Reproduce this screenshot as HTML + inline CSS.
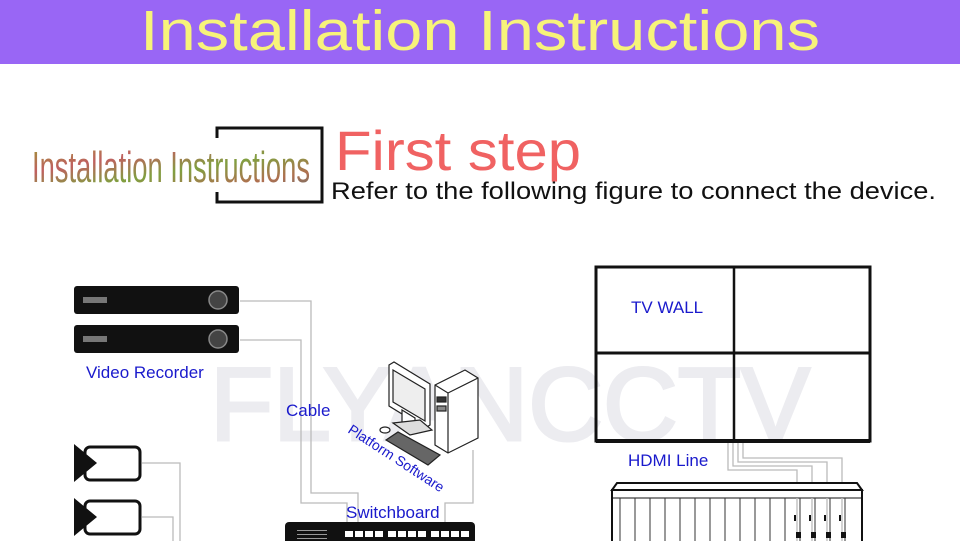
<!DOCTYPE html>
<html><head><meta charset="utf-8"><style>
html,body{margin:0;padding:0;background:#fff;width:960px;height:541px;overflow:hidden}
svg{display:block;font-family:"Liberation Sans",sans-serif}
</style></head><body>
<svg width="960" height="541" viewBox="0 0 960 541" xmlns="http://www.w3.org/2000/svg">
<defs>
<linearGradient id="g" x1="0" y1="0" x2="1" y2="1">
<stop offset="0" stop-color="#9a9a30"/><stop offset="0.3" stop-color="#c06060"/><stop offset="0.55" stop-color="#80a040"/><stop offset="0.8" stop-color="#b07050"/><stop offset="1" stop-color="#607070"/>
</linearGradient>
</defs>
<rect x="0" y="0" width="960" height="64" fill="#9966f5"/>
<text x="140" y="50" font-size="57" fill="#f7f37a" textLength="680" lengthAdjust="spacingAndGlyphs">Installation Instructions</text>

<text x="32" y="182" font-size="44" fill="url(#g)" textLength="278" lengthAdjust="spacingAndGlyphs">Installation Instructions</text>
<path d="M217 138 V128 H322 V202 H217 V192" fill="none" stroke="#111" stroke-width="3"/>
<text x="335" y="170" font-size="56" fill="#f06262" textLength="246" lengthAdjust="spacingAndGlyphs">First step</text>
<text x="331" y="199" font-size="24" fill="#111" textLength="605" lengthAdjust="spacingAndGlyphs">Refer to the following figure to connect the device.</text>

<text x="210" y="440" font-size="104" fill="#ececf0" stroke="#ececf0" stroke-width="3" textLength="600" lengthAdjust="spacingAndGlyphs">FLYANCCTV</text>

<g fill="none" stroke="#bbb" stroke-width="1.3">
<path d="M240 301 H311 V493 H358 V522"/>
<path d="M240 340 H301 V503 H347 V522"/>
<path d="M473 450 V503 H445 V522"/>
<path d="M142 463 H180 V541"/>
<path d="M142 517 H173 V541"/>
<path d="M728 441 V470 H797 V541"/>
<path d="M733 441 V466 H812 V541"/>
<path d="M738 441 V462 H827 V541"/>
<path d="M743 441 V458 H842 V541"/>
</g>

<g>
<rect x="74" y="286" width="165" height="28" rx="3" fill="#111"/>
<rect x="83" y="297" width="24" height="6" fill="#777"/>
<circle cx="218" cy="300" r="9" fill="#444" stroke="#888" stroke-width="1.5"/>
<rect x="74" y="325" width="165" height="28" rx="3" fill="#111"/>
<rect x="83" y="336" width="24" height="6" fill="#777"/>
<circle cx="218" cy="339" r="9" fill="#444" stroke="#888" stroke-width="1.5"/>
</g>
<text x="86" y="378" font-size="17" fill="#1a1acc">Video Recorder</text>
<text x="286" y="416" font-size="17" fill="#1a1acc">Cable</text>

<g>
<rect x="85" y="447" width="55" height="33" rx="5" fill="#fff" stroke="#111" stroke-width="3"/>
<path d="M74 444 L97 463 L74 482 Z" fill="#111"/>
<rect x="85" y="501" width="55" height="33" rx="5" fill="#fff" stroke="#111" stroke-width="3"/>
<path d="M74 498 L97 517 L74 536 Z" fill="#111"/>
</g>

<g stroke="#222" stroke-width="1.2" fill="#fff">
<path d="M435 385 L465 370 L478 378 L478 438 L448 453 L435 445 Z"/>
<path d="M435 385 L448 393 L478 378" fill="none"/>
<path d="M448 393 V453" fill="none"/>
<rect x="437" y="397" width="9" height="5" fill="#333"/>
<rect x="437" y="406" width="9" height="5" fill="#888"/>
<path d="M389 365 L394 362 L430 384 L430 425 L425 428 L389 406 Z"/>
<path d="M393 370 L425 389 L425 421 L393 402 Z" fill="#eee"/>
<path d="M402 410 L415 418 L415 428 L402 422 Z"/>
<path d="M393 423 L420 420 L432 430 L410 435 Z" fill="#ddd"/>
<path d="M386 440 L398 432 L440 455 L428 465 Z" fill="#666"/>
<ellipse cx="385" cy="430" rx="5" ry="3"/>
</g>
<text x="0" y="0" font-size="14" fill="#1a1acc" transform="translate(347,432) rotate(33)">Platform Software</text>

<text x="346" y="518" font-size="17" fill="#1a1acc">Switchboard</text>
<rect x="285" y="522" width="190" height="30" rx="4" fill="#111"/>
<g fill="#fff">
<rect x="345" y="531" width="8" height="6"/><rect x="355" y="531" width="8" height="6"/><rect x="365" y="531" width="8" height="6"/><rect x="375" y="531" width="8" height="6"/>
<rect x="388" y="531" width="8" height="6"/><rect x="398" y="531" width="8" height="6"/><rect x="408" y="531" width="8" height="6"/><rect x="418" y="531" width="8" height="6"/>
<rect x="431" y="531" width="8" height="6"/><rect x="441" y="531" width="8" height="6"/><rect x="451" y="531" width="8" height="6"/><rect x="461" y="531" width="8" height="6"/>
</g>
<g fill="#999"><rect x="297" y="530" width="30" height="1"/><rect x="297" y="534" width="30" height="1"/><rect x="297" y="538" width="30" height="1"/></g>

<rect x="596" y="267" width="274" height="174" fill="none" stroke="#111" stroke-width="3"/>
<line x1="734" y1="267" x2="734" y2="441" stroke="#111" stroke-width="2.5"/>
<line x1="596" y1="353" x2="870" y2="353" stroke="#111" stroke-width="3"/>
<line x1="596" y1="441" x2="870" y2="441" stroke="#111" stroke-width="4"/>
<text x="631" y="313" font-size="17" fill="#1a1acc">TV WALL</text>
<text x="628" y="466" font-size="17" fill="#1a1acc">HDMI Line</text>

<path d="M617 483 H857 L862 490 H612 Z" fill="#fff" stroke="#111" stroke-width="2"/>
<rect x="612" y="490" width="250" height="60" fill="#fff" stroke="#111" stroke-width="2"/>
<line x1="612" y1="498" x2="862" y2="498" stroke="#111" stroke-width="1"/>
<g stroke="#333" stroke-width="1">
<path d="M620 498V541M635 498V541M650 498V541M665 498V541M680 498V541M695 498V541M710 498V541M725 498V541M740 498V541M755 498V541M770 498V541M785 498V541M800 498V541M815 498V541M830 498V541M845 498V541"/>
</g>
<g fill="none" stroke="#bbb" stroke-width="1.3">
<path d="M797 498V541M812 498V541M827 498V541M842 498V541"/>
</g>
<g fill="#111">
<rect x="796" y="532" width="5" height="6"/><rect x="811" y="532" width="5" height="6"/><rect x="826" y="532" width="5" height="6"/><rect x="841" y="532" width="5" height="6"/>
<rect x="794" y="515" width="2" height="6"/><rect x="809" y="515" width="2" height="6"/><rect x="824" y="515" width="2" height="6"/><rect x="839" y="515" width="2" height="6"/>
</g>
</svg>
</body></html>
